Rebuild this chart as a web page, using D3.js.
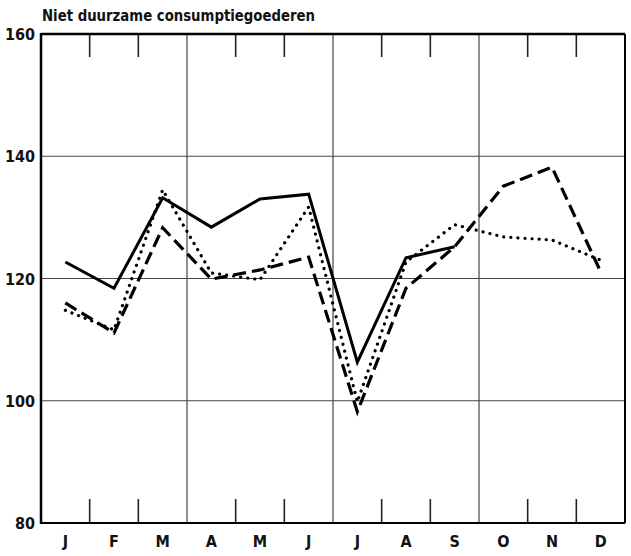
<!DOCTYPE html>
<html>
<head>
<meta charset="utf-8">
<script src="https://cdn.jsdelivr.net/npm/d3@7"></script>
<style>
  body { margin: 0; background: #fff; }
  text { font-family: "Liberation Sans Narrow", "DejaVu Sans Condensed", "DejaVu Sans", sans-serif; font-stretch: condensed; font-weight: bold; fill: #111; }
</style>
</head>
<body>
<div id="graph"></div>
<script>
// values, one per month
var months = ['J', 'F', 'M', 'A', 'M', 'J', 'J', 'A', 'S', 'O', 'N', 'D'];
var solid = [122.7, 118.4, 133.2, 128.4, 133.0, 133.8, 106.3, 123.4, 125.2];
var dashed = [116.0, 111.1, 128.3, 119.9, 121.4, 123.5, 98.2, 118.4, 125.2, 135.1, 138.2, 121.1];
var dotted = [114.8, 111.6, 134.5, 120.9, 119.8, 131.7, 99.8, 122.7, 128.8, 126.8, 126.3, 123.0];
var yTicks = [80, 100, 120, 140, 160];
var title = 'Niet duurzame consumptiegoederen';

(function () {
    var width = 631, height = 556;
    // plot box (window.top is taken, hence the names)
    var x0 = 41, x1 = 625, y0 = 34, y1 = 523;

    var svg = d3.select('#graph').append('svg')
        .attr('width', width)
        .attr('height', height);

    // band per month, points sit in the middle
    var x = d3.scaleBand().domain(d3.range(12)).range([x0, x1]).padding(0);
    var y = d3.scaleLinear().domain([80, 160]).range([y1, y0]);
    function cx(d, i) { return x(i) + x.bandwidth() / 2; }

    // grid: full horizontal lines
    svg.append('g').selectAll('line')
        .data(yTicks.filter(function (v) { return v > 80 && v < 160; }))
        .enter().append('line')
        .attr('x1', x0).attr('x2', x1)
        .attr('y1', function (d) { return y(d); })
        .attr('y2', function (d) { return y(d); })
        .attr('stroke', '#444').attr('stroke-width', 1.2);

    // month boundaries: quarter lines full height, the others short ticks at top and bottom
    var grid = svg.append('g');
    d3.range(1, 12).forEach(function (k) {
        var xx = x(k);
        if (k % 3 === 0) {
            grid.append('line')
                .attr('x1', xx).attr('x2', xx).attr('y1', y0).attr('y2', y1)
                .attr('stroke', '#444').attr('stroke-width', 1.2);
        } else {
            grid.append('line')
                .attr('x1', xx).attr('x2', xx).attr('y1', y0).attr('y2', y0 + 23)
                .attr('stroke', '#222').attr('stroke-width', 1.6);
            grid.append('line')
                .attr('x1', xx).attr('x2', xx).attr('y1', y1).attr('y2', y1 - 24)
                .attr('stroke', '#222').attr('stroke-width', 1.6);
        }
    });

    // frame
    svg.append('line').attr('x1', x0).attr('x2', x0).attr('y1', y0 - 1).attr('y2', y1 + 1)
        .attr('stroke', '#000').attr('stroke-width', 2.5);
    svg.append('line').attr('x1', x0).attr('x2', x1).attr('y1', y0).attr('y2', y0)
        .attr('stroke', '#000').attr('stroke-width', 2.5);
    svg.append('line').attr('x1', x1).attr('x2', x1).attr('y1', y0).attr('y2', y1)
        .attr('stroke', '#000').attr('stroke-width', 2);
    svg.append('line').attr('x1', x0).attr('x2', x1).attr('y1', y1).attr('y2', y1)
        .attr('stroke', '#000').attr('stroke-width', 2);

    // y labels
    svg.append('g').selectAll('text')
        .data(yTicks)
        .enter().append('text')
        .attr('x', x0 - 6)
        .attr('y', function (d) { return y(d) + 6; })
        .attr('text-anchor', 'end')
        .attr('font-size', 16)
        .text(function (d) { return d; });

    // month labels
    svg.append('g').selectAll('text')
        .data(months)
        .enter().append('text')
        .attr('x', cx)
        .attr('y', 547)
        .attr('text-anchor', 'middle')
        .attr('font-size', 16)
        .text(function (d) { return d; });

    // title, stretched to the width it has in the scan
    svg.append('text')
        .attr('x', 42).attr('y', 21)
        .attr('font-size', 15)
        .attr('textLength', 273)
        .attr('lengthAdjust', 'spacingAndGlyphs')
        .text(title);

    var line = d3.line().x(cx).y(function (d) { return y(d); });

    svg.append('path').datum(dotted)
        .attr('d', line).attr('fill', 'none')
        .attr('stroke', '#000').attr('stroke-width', 3.2)
        .attr('stroke-linecap', 'round')
        .attr('stroke-dasharray', '0.1,7');

    svg.append('path').datum(dashed)
        .attr('d', line).attr('fill', 'none')
        .attr('stroke', '#000').attr('stroke-width', 3.2)
        .attr('stroke-dasharray', '13,6');

    svg.append('path').datum(solid)
        .attr('d', line).attr('fill', 'none')
        .attr('stroke', '#000').attr('stroke-width', 3);
})();
</script>
</body>
</html>
